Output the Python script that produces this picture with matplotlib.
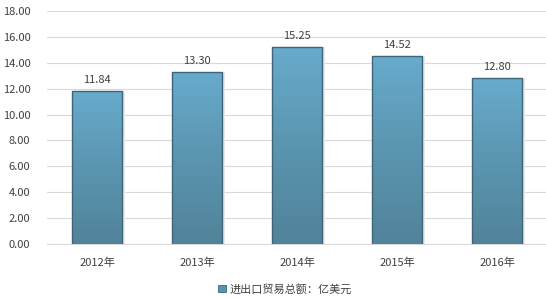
import numpy as np
import matplotlib
matplotlib.use('Agg')
import matplotlib.pyplot as plt
from matplotlib.patches import Rectangle
from matplotlib.colors import LinearSegmentedColormap

plt.rcParams['font.family'] = ['Noto Sans CJK SC', 'DejaVu Sans']

years = ['2012年', '2013年', '2014年', '2015年', '2016年']
values = [11.84, 13.30, 15.25, 14.52, 12.80]
legend_label = '进出口贸易总额：亿美元'

fig = plt.figure(figsize=[5.46, 2.99], dpi=100)
ax = fig.add_axes([47/546, 55/299, 500/546, 233/299])

x = np.arange(len(values))
width = 0.5
ax.set_xlim(-0.5, len(values) - 0.5)
ax.set_ylim(0, 18)

cmap = LinearSegmentedColormap.from_list('bar', ['#51839a', '#5b95b0', '#68abcc'])
grad = np.linspace(0, 1, 256).reshape(-1, 1)

for xi, v in zip(x, values):
    # light shadow on the right
    ax.add_patch(Rectangle((xi + width/2, 0), 0.03, v, facecolor='#e8e8e8',
                           edgecolor='none', zorder=1))
    rect = Rectangle((xi - width/2, 0), width, v, facecolor='none',
                     edgecolor='#3e6577', linewidth=1.0, zorder=3)
    ax.add_patch(rect)
    im = ax.imshow(grad, cmap=cmap, origin='lower', aspect='auto',
                   extent=[xi - width/2, xi + width/2, 0, v], zorder=2)
    im.set_clip_path(rect)
    ax.text(xi, v + 0.45, f'{v:.2f}', ha='center', va='bottom',
            fontsize=8, color='#404040')

ax.set_xticks(x)
ax.set_xticklabels(years, fontsize=8, color='#404040')
yt = np.arange(0, 19, 2)
ax.set_yticks(yt)
ax.set_yticklabels([f'{t:.2f}' for t in yt], fontsize=8, color='#404040')
ax.tick_params(axis='x', length=0, pad=10)
ax.tick_params(axis='y', length=0, pad=12)
ax.grid(axis='y', color='#d9d9d9', linewidth=0.8, zorder=0)
ax.set_axisbelow(True)
for s in ['top', 'right', 'left']:
    ax.spines[s].set_visible(False)
ax.spines['bottom'].set_color('#d9d9d9')

handle = Rectangle((0, 0), 1, 1, facecolor='#5a93ad', edgecolor='#3e6577', linewidth=0.6)
fig.legend([handle], [legend_label], loc='center', bbox_to_anchor=(285/546, 1 - 289/299),
           frameon=False, fontsize=8, handlelength=0.7, handleheight=0.7,
           handletextpad=0.3, labelcolor='#404040')

fig.savefig('out.png', dpi=100)
